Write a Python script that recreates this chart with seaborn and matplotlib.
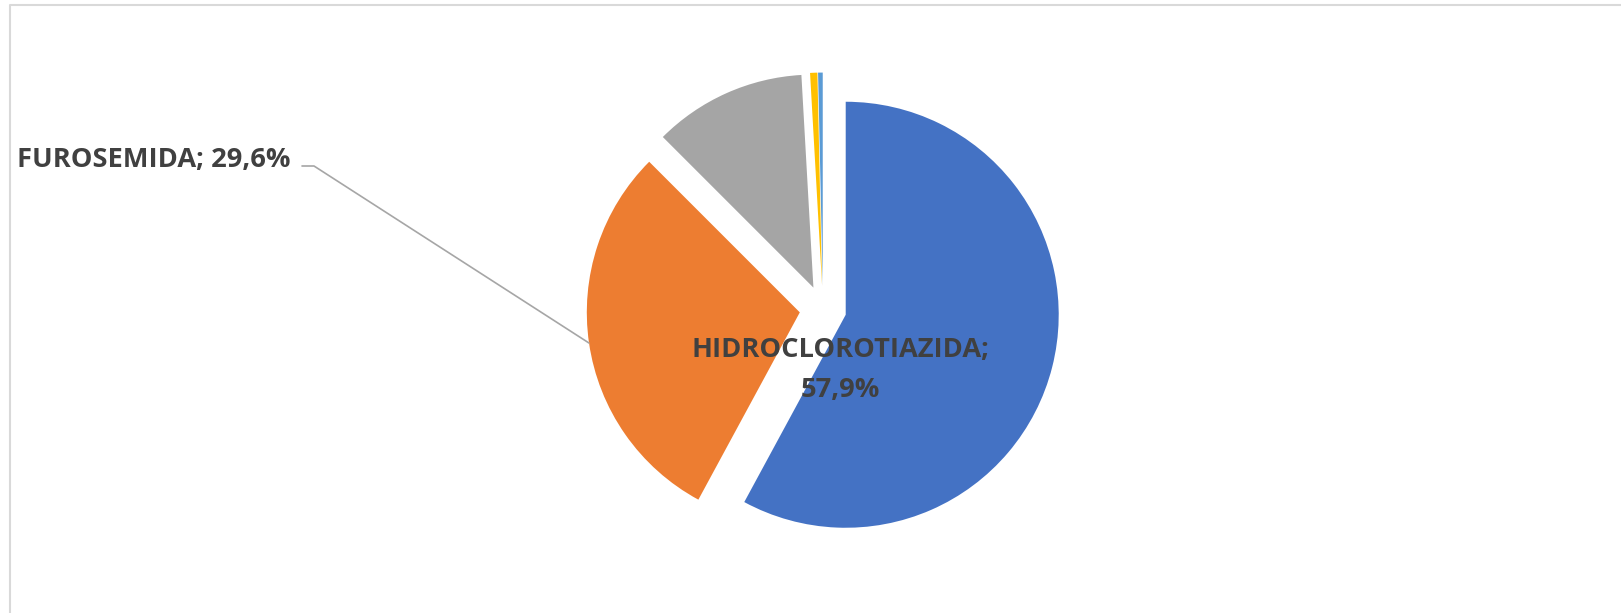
import numpy as np
import matplotlib
matplotlib.use('Agg')
import matplotlib.pyplot as plt
import seaborn as sns

# Chart data (clockwise from 12 o'clock, as in the source)
labels = ['HIDROCLOROTIAZIDA', 'FUROSEMIDA', 'OTROS', 'OTRO 2', 'OTRO 3']
shares = [57.9, 29.6, 11.6, 0.55, 0.35]
colors = ['#4472C4', '#ED7D31', '#A5A5A5', '#FFC000', '#5B9BD5']
shown_labels = {0: 'HIDROCLOROTIAZIDA;\n57,9%', 1: 'FUROSEMIDA; 29,6%'}

sns.set_theme(style='white')
plt.rcParams['font.family'] = ['Open Sans', 'DejaVu Sans']

W, H = 1621, 613
fig = plt.figure(figsize=(W / 100, H / 100), dpi=100)
ax = fig.add_axes([0, 0, 1, 1])

# chart frame (only top/left visible in the crop)
ax.plot([10, 10, W + 5], [-5, H - 5, H - 5], color='#d9d9d9', lw=1.5,
        solid_capstyle='butt')

center = (823, H - 309)
radius = 213
# pie explode is in data units here, so scale the 11 % point explosion
explode = [0.11 * radius] * len(shares)
wedges, _ = ax.pie(shares, colors=colors, startangle=90, counterclock=False,
                   explode=explode, radius=radius, center=center,
                   wedgeprops=dict(linewidth=0), frame=True)
ax.set_xlim(0, W)
ax.set_ylim(0, H)
ax.set_aspect('equal')
ax.axis('off')

txt_color = '#404040'
fs = 19.6

# label inside the big slice
ax.text(840, H - 357, 'HIDROCLOROTIAZIDA;', ha='center', va='baseline',
        fontsize=fs, fontweight='bold', color=txt_color)
ax.text(840, H - 397, '57,9%', ha='center', va='baseline',
        fontsize=fs, fontweight='bold', color=txt_color)

# outside label with leader line to middle of the orange arc
w = wedges[1]
mid = np.deg2rad((w.theta1 + w.theta2) / 2)
arc_pt = (w.center[0] + w.r * np.cos(mid), w.center[1] + w.r * np.sin(mid))
ax.plot([302, 314, arc_pt[0]], [H - 166, H - 166, arc_pt[1]],
        color='#a6a6a6', lw=1.2)
ax.text(17, H - 167, shown_labels[1], ha='left', va='baseline',
        fontsize=fs, fontweight='bold', color=txt_color)

fig.savefig('out.png', dpi=100, facecolor='white')
